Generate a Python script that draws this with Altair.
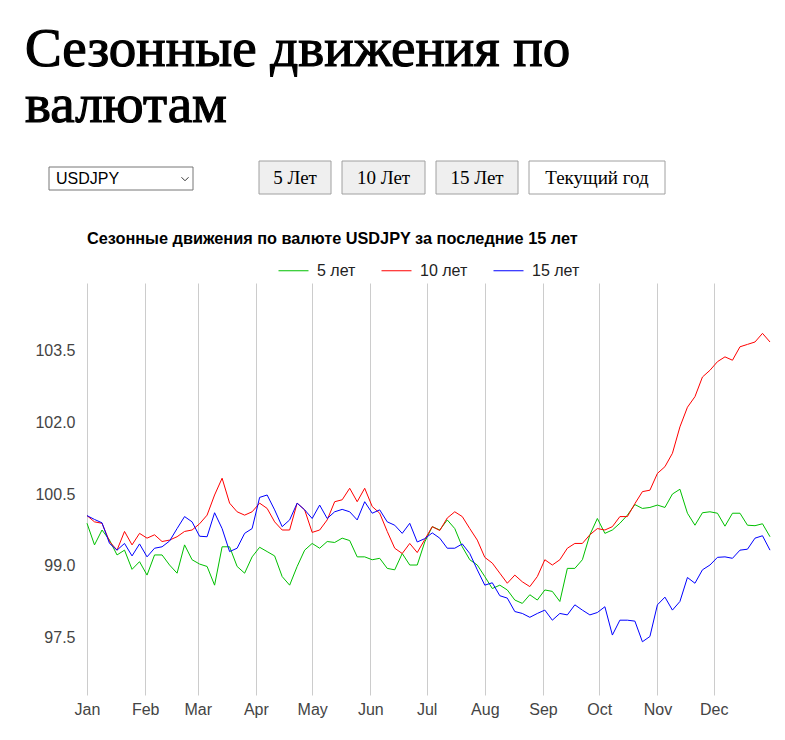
import altair as alt
import pandas as pd

# ---- data -----------------------------------------------------------------
days = list(range(0, 365, 4))

series_names = ["5 лет", "10 лет", "15 лет"]
series_colors = ["#00c000", "#ff0000", "#0000ff"]

green_5y = [
    99.89, 99.44, 99.75, 99.54, 99.23, 99.33, 98.93, 99.09, 98.81, 99.23,
    99.23, 99.02, 98.85, 99.44, 99.13, 99.04, 98.99, 98.60, 99.40, 99.40,
    98.99, 98.85, 99.19, 99.39, 99.30, 99.21, 98.78, 98.60, 98.99, 99.33,
    99.47, 99.37, 99.51, 99.49, 99.58, 99.53, 99.19, 99.19, 99.13, 99.16,
    98.95, 98.92, 99.26, 99.02, 99.02, 99.50, 99.82, 99.75, 99.96, 99.78,
    99.40, 99.13, 99.02, 98.78, 98.53, 98.60, 98.50, 98.29, 98.22, 98.40,
    98.29, 98.50, 98.47, 98.26, 98.95, 98.95, 99.13, 99.65, 99.99, 99.68,
    99.75, 99.89, 100.06, 100.28, 100.20, 100.22, 100.27, 100.22, 100.50, 100.60,
    100.10, 99.85, 100.11, 100.13, 100.10, 99.83, 100.10, 100.10, 99.85, 99.84,
    99.88, 99.61,
]

red_10y = [
    100.05, 99.92, 99.89, 99.51, 99.33, 99.72, 99.44, 99.68, 99.58, 99.65,
    99.51, 99.54, 99.61, 99.72, 99.75, 99.88, 100.06, 100.48, 100.83, 100.31,
    100.13, 100.06, 100.13, 100.31, 100.20, 99.92, 99.75, 99.75, 100.31, 100.17,
    99.70, 99.75, 99.96, 100.34, 100.38, 100.62, 100.34, 100.62, 100.24, 100.10,
    99.72, 99.37, 99.26, 99.47, 99.28, 99.55, 99.82, 99.74, 100.00, 100.13,
    100.03, 99.78, 99.54, 99.18, 99.06, 98.85, 98.64, 98.81, 98.67, 98.57,
    98.78, 99.13, 99.02, 99.13, 99.37, 99.47, 99.47, 99.65, 99.78, 99.75,
    99.82, 100.03, 100.03, 100.30, 100.55, 100.58, 100.93, 101.07, 101.35, 101.90,
    102.31, 102.53, 102.94, 103.08, 103.26, 103.36, 103.29, 103.57, 103.62, 103.67,
    103.85, 103.67,
]

blue_15y = [
    100.05, 99.97, 99.90, 99.47, 99.33, 99.47, 99.21, 99.46, 99.19, 99.37,
    99.40, 99.52, 99.78, 100.03, 99.92, 99.62, 99.61, 100.11, 99.78, 99.30,
    99.37, 99.68, 99.78, 100.43, 100.48, 100.17, 99.82, 99.96, 100.31, 100.17,
    99.99, 100.27, 99.99, 100.13, 100.18, 100.13, 99.96, 100.34, 100.10, 100.17,
    99.92, 99.85, 99.68, 99.89, 99.50, 99.57, 99.69, 99.58, 99.37, 99.37,
    99.46, 99.26, 98.92, 98.60, 98.65, 98.38, 98.33, 98.05, 98.01, 97.93,
    98.01, 98.08, 97.87, 98.01, 97.98, 98.19, 98.08, 97.98, 98.03, 98.15,
    97.56, 97.87, 97.87, 97.85, 97.42, 97.53, 98.19, 98.35, 98.08, 98.26,
    98.76, 98.64, 98.92, 99.02, 99.18, 99.19, 99.16, 99.33, 99.35, 99.58,
    99.63, 99.33,
]

month_starts = [0, 31, 59, 90, 120, 151, 181, 212, 243, 273, 304, 334]
month_labels = ["Jan", "Feb", "Mar", "Apr", "May", "Jun",
                "Jul", "Aug", "Sep", "Oct", "Nov", "Dec"]
y_ticks = [97.5, 99.0, 100.5, 102.0, 103.5]

page_title_1 = "Сезонные движения по"
page_title_2 = "валютам"
chart_title = "Сезонные движения по валюте USDJPY за последние 15 лет"
dropdown_text = "USDJPY"
button_labels = ["5 Лет", "10 Лет", "15 Лет", "Текущий год"]

# ---- table ------------------------------------------------------------------
rows = []
for name, vals in zip(series_names, [green_5y, red_10y, blue_15y]):
    for d, v in zip(days, vals):
        rows.append({"day": d, "value": v, "series": name})
df = pd.DataFrame(rows)

label_expr = "[{}][indexof([{}], datum.value)]".format(
    ",".join("'%s'" % m for m in month_labels),
    ",".join(str(m) for m in month_starts),
)

SANS = "Liberation Sans"
SERIF = "Liberation Serif"

lines = alt.Chart(df).mark_line(strokeWidth=1).encode(
    x=alt.X(
        "day:Q",
        scale=alt.Scale(domain=[0, 364], nice=False, zero=False),
        axis=alt.Axis(
            values=month_starts, labelExpr=label_expr, title=None,
            grid=True, gridColor="#cccccc", gridWidth=1,
            domain=False, ticks=False, labelFlush=False,
            labelFont=SANS, labelFontSize=16, labelColor="#444444",
            labelPadding=6,
        ),
    ),
    y=alt.Y(
        "value:Q",
        scale=alt.Scale(domain=[96.31, 104.9], nice=False, zero=False),
        axis=alt.Axis(
            values=y_ticks, format=".1f", title=None, grid=False,
            domain=False, ticks=False, labelFont=SANS, labelFontSize=16,
            labelColor="#444444", labelPadding=12,
        ),
    ),
    color=alt.Color(
        "series:N",
        scale=alt.Scale(domain=series_names, range=series_colors),
        legend=alt.Legend(
            orient="none", legendX=191, legendY=-28, direction="horizontal",
            title=None, symbolType="stroke", symbolSize=900,
            symbolStrokeWidth=1, labelFont=SANS, labelFontSize=16,
            labelColor="#222222", labelOffset=8, columnPadding=23,
            padding=0,
        ),
    ),
    detail="series:N",
)


def text_el(text, x, y, size, font, weight="normal", align="left",
            baseline="alphabetic", color="#000000", stroke_w=0):
    kw = dict(align=align, baseline=baseline, font=font, fontSize=size,
              fontWeight=weight, color=color)
    if stroke_w:
        kw.update(stroke=color, strokeWidth=stroke_w)
    return alt.Chart(pd.DataFrame({"t": [text]})).mark_text(**kw).encode(
        x=alt.value(x), y=alt.value(y), text="t:N")


def rect_el(x1, x2, y1, y2, fill, stroke):
    return alt.Chart(pd.DataFrame({"a": [0]})).mark_rect(
        fill=fill, stroke=stroke, strokeWidth=1,
    ).encode(x=alt.value(x1), x2=alt.value(x2),
             y=alt.value(y1), y2=alt.value(y2))


layers = [lines]
# page title
layers.append(text_el(page_title_1, -62, -217, 55, SERIF, stroke_w=1.2))
layers.append(text_el(page_title_2, -62, -161, 55, SERIF, stroke_w=1.2))
# dropdown
layers.append(rect_el(-38, 106, -116, -93, "#ffffff", "#767676"))
layers.append(text_el(dropdown_text, -31, -104, 16, SANS, baseline="middle"))
layers.append(
    alt.Chart(pd.DataFrame({"a": [0]})).mark_point(
        shape="M-1,-0.5L0,0.5L1,-0.5", size=49, filled=False,
        color="#333333", strokeWidth=1, opacity=1,
    ).encode(x=alt.value(98), y=alt.value(-104))
)
# buttons
btn_boxes = [(172, 244), (255, 338), (349, 431), (442, 578)]
btn_fills = ["#efefef", "#efefef", "#efefef", "#ffffff"]
for lab, (bx1, bx2), f in zip(button_labels, btn_boxes, btn_fills):
    layers.append(rect_el(bx1, bx2, -122, -89, f, "#a0a0a0"))
    layers.append(text_el(lab, (bx1 + bx2) / 2, -105, 19, SERIF,
                          align="center", baseline="middle"))
# chart title
layers.append(text_el(chart_title, 0, -39, 16.3, SANS, weight="bold"))

chart = alt.layer(*layers).properties(
    width=683, height=412,
    autosize=alt.AutoSizeParams(type="none"),
    padding={"left": 87, "top": 283, "right": 15, "bottom": 45},
    background="#ffffff",
).configure_view(strokeWidth=0)

chart.save("out.html", embed_options={"renderer": "svg", "actions": False})
